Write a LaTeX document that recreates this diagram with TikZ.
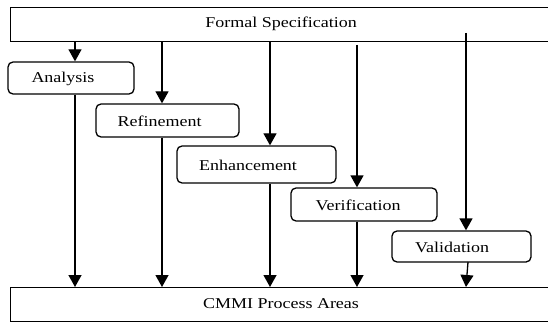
\documentclass[tikz,border=0pt]{standalone}
\usepackage{fontspec}
\setmainfont{Liberation Serif}[FakeStretch=1.2]
\usetikzlibrary{arrows.meta}
\begin{document}
\begin{tikzpicture}[x=1pt,y=-1pt,
  every node/.style={font=\fontsize{15}{18}\selectfont, inner sep=0pt},
  band/.style={draw, line width=1.3pt, rectangle, minimum width=570pt, minimum height=34pt, anchor=north west},
  phase/.style={draw, line width=1.3pt, rounded corners=5pt, rectangle},
  flow/.style={line width=1.3pt, -{Triangle[width=13pt,length=12pt]}},
]
\useasboundingbox (0,0) rectangle (548,323);
\clip (0,0) rectangle (548,323);

% top and bottom bands
\node[band] (spec) at (10,7) {};
\node at (281,24) {Formal Specification};
\node[band] (cmmi) at (10,287) {};
\node at (281,304) {CMMI Process Areas};

% phase boxes
\node[phase, minimum width=126pt, minimum height=32pt] (ana) at (71,78) {};
\node[phase, minimum width=143pt, minimum height=33pt] (ref) at (167.5,120.5) {};
\node[phase, minimum width=159pt, minimum height=37pt] (enh) at (256.5,164.5) {};
\node[phase, minimum width=146pt, minimum height=33pt] (ver) at (364,204.5) {};
\node[phase, minimum width=139pt, minimum height=31pt] (val) at (461.5,246.5) {};

\node at (63,79) {Analysis};
\node at (159.5,121) {Refinement};
\node at (248,165) {Enhancement};
\node at (358,205) {Verification};
\node at (452,247) {Validation};

% lanes of the connectors
\coordinate (l1) at (75,0);
\coordinate (l2) at (162,0);
\coordinate (l3) at (270,0);
\coordinate (l4) at (357,0);
\coordinate (l5) at (466,0);
\coordinate (l4s) at (357,45);
\coordinate (l5s) at (466,33);
\coordinate (l5b) at (468,262);

\draw[flow] (l1 |- spec.south) -- (l1 |- ana.north);
\draw[flow] (l2 |- spec.south) -- (l2 |- ref.north);
\draw[flow] (l3 |- spec.south) -- (l3 |- enh.north);
\draw[flow] (l4s) -- (l4 |- ver.north);
\draw[flow] (l5s) -- (l5 |- val.north);

\draw[flow] (l1 |- ana.south) -- (l1 |- cmmi.north);
\draw[flow] (l2 |- ref.south) -- (l2 |- cmmi.north);
\draw[flow] (l3 |- enh.south) -- (l3 |- cmmi.north);
\draw[flow] (l4 |- ver.south) -- (l4 |- cmmi.north);
\draw[flow] (l5b) -- (l5 |- cmmi.north);
\end{tikzpicture}
\end{document}
